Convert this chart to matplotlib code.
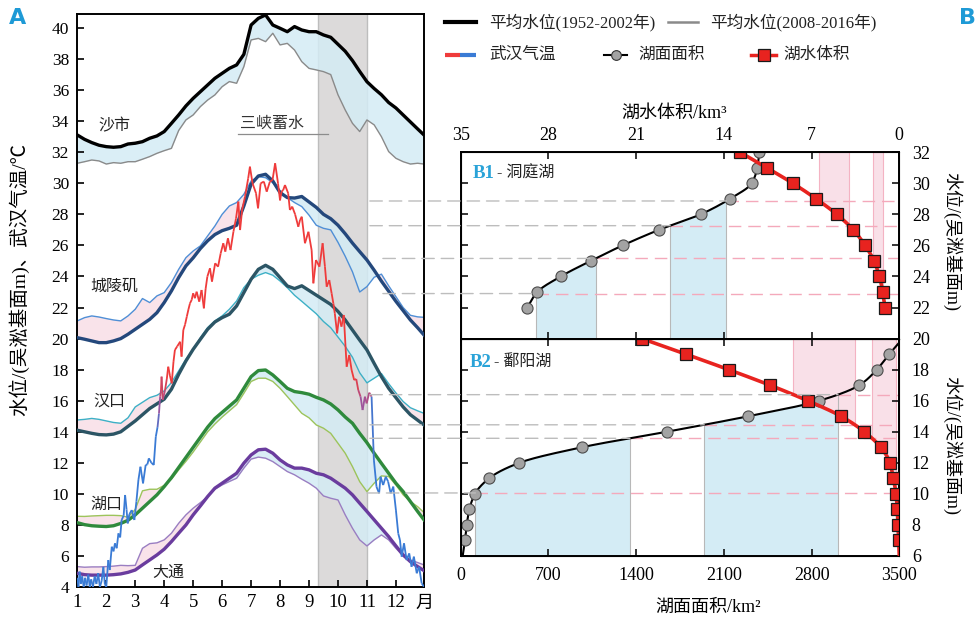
"""Water level seasonality (A) and lake stage-area-volume curves (B)."""
import matplotlib
matplotlib.use('Agg')
import matplotlib.pyplot as plt
import numpy as np
from matplotlib.collections import LineCollection
from matplotlib.colors import LinearSegmentedColormap, Normalize
from matplotlib.patches import ConnectionPatch

plt.rcParams['font.family'] = ['Liberation Serif', 'Noto Sans CJK SC', 'DejaVu Sans']
plt.rcParams['axes.unicode_minus'] = False

# ---------------- Panel A data ----------------
month = [1.0, 1.25, 1.5, 1.75, 2.0, 2.25, 2.5, 2.75, 3.0, 3.25, 3.5, 3.75,
         4.0, 4.25, 4.5, 4.75, 5.0, 5.25, 5.5, 5.75, 6.0, 6.25, 6.5, 6.75,
         7.0, 7.25, 7.5, 7.75, 8.0, 8.25, 8.5, 8.75, 9.0, 9.25, 9.5, 9.75,
         10.0, 10.25, 10.5, 10.75, 11.0, 11.25, 11.5, 11.75, 12.0, 12.25,
         12.5, 12.75, 12.97]

shashi_old = [33.11, 32.83, 32.62, 32.45, 32.36, 32.32, 32.36, 32.53, 32.58, 32.68,
              32.90, 33.05, 33.33, 33.86, 34.40, 34.98, 35.47, 35.90, 36.33, 36.76,
              37.08, 37.40, 37.62, 38.30, 40.19, 40.62, 40.84, 40.19, 39.98, 39.76,
              40.09, 39.87, 39.76, 39.76, 39.55, 39.40, 38.95, 38.50, 37.90, 37.20,
              36.54, 36.10, 35.70, 35.20, 34.85, 34.40, 33.95, 33.50, 33.11]
shashi_new = [31.29, 31.39, 31.50, 31.44, 31.24, 31.33, 31.29, 31.39, 31.39, 31.55,
              31.72, 31.93, 32.10, 32.25, 33.40, 34.08, 34.40, 34.94, 35.36, 35.69,
              36.22, 36.55, 36.44, 37.51, 39.23, 39.33, 39.12, 39.66, 38.91, 39.01,
              38.58, 37.83, 37.40, 37.30, 37.19, 37.00, 35.70, 34.72, 33.86, 33.33,
              34.08, 33.76, 33.00, 32.04, 31.61, 31.39, 31.24, 31.29, 31.24]

chengling_old = [20.06, 19.96, 19.85, 19.74, 19.74, 19.85, 20.00, 20.28, 20.60, 20.92,
                 21.24, 21.67, 22.32, 23.07, 23.93, 24.68, 25.20, 25.80, 26.30, 26.70,
                 26.95, 27.10, 27.30, 28.54, 29.94, 30.47, 30.58, 30.15, 29.40, 29.08,
                 29.05, 29.15, 28.80, 28.45, 28.00, 27.72, 27.30, 26.75, 26.15, 25.60,
                 25.06, 24.40, 23.70, 23.05, 22.40, 21.80, 21.20, 20.70, 20.23]
chengling_new = [21.14, 21.35, 21.46, 21.39, 21.29, 21.20, 21.14, 21.46, 21.89, 22.58,
                 22.32, 22.75, 22.96, 23.61, 24.46, 25.21, 25.64, 25.97, 26.61, 27.25,
                 28.00, 28.54, 28.76, 29.29, 30.15, 30.43, 30.36, 30.04, 29.50, 29.08,
                 28.76, 28.50, 27.95, 27.30, 27.10, 27.00, 26.20, 25.30, 24.30, 23.00,
                 23.35, 23.95, 24.15, 23.40, 22.70, 22.00, 21.50, 21.40, 21.37]

hankou_old = [14.10, 14.00, 13.90, 13.82, 13.80, 13.85, 14.00, 14.35, 14.70, 15.10,
              15.50, 15.80, 16.10, 16.74, 17.70, 18.56, 19.31, 19.96, 20.60, 21.07,
              21.35, 21.57, 22.10, 22.96, 23.82, 24.46, 24.72, 24.46, 23.93, 23.39,
              23.22, 23.40, 23.10, 22.80, 22.50, 22.20, 21.75, 21.20, 20.55, 19.90,
              19.27, 18.40, 17.55, 16.80, 16.20, 15.60, 15.10, 14.75, 14.44]
hankou_new = [14.76, 14.80, 14.86, 14.80, 14.70, 14.60, 14.55, 14.90, 15.60, 15.90,
              16.20, 16.35, 16.63, 17.17, 17.92, 18.67, 19.31, 20.06, 20.71, 21.14,
              21.46, 21.89, 22.42, 23.28, 23.82, 24.08, 24.25, 24.08, 23.71, 23.28,
              22.79, 22.40, 22.00, 21.60, 21.10, 20.70, 20.10, 19.50, 18.80, 17.80,
              17.15, 17.45, 17.75, 17.10, 16.50, 15.95, 15.55, 15.35, 15.19]

hukou_old = [8.15, 8.02, 7.95, 7.92, 7.90, 7.95, 8.10, 8.30, 8.65, 9.08,
             9.51, 9.94, 10.47, 11.05, 11.70, 12.35, 13.00, 13.65, 14.30, 14.85,
             15.25, 15.65, 16.05, 16.80, 17.55, 17.94, 17.98, 17.66, 17.24, 16.80,
             16.59, 16.52, 16.42, 16.22, 16.05, 15.79, 15.41, 14.95, 14.55, 13.90,
             13.30, 12.62, 11.97, 11.33, 10.69, 10.15, 9.51, 8.87, 8.33]
hukou_new = [8.56, 8.55, 8.58, 8.60, 8.62, 8.62, 8.60, 8.50, 9.00, 10.20,
             10.30, 10.30, 10.55, 10.95, 11.55, 12.10, 12.70, 13.35, 14.00, 14.50,
             14.95, 15.35, 15.75, 16.48, 17.24, 17.45, 17.45, 17.24, 16.80, 16.27,
             15.73, 15.19, 14.90, 14.44, 14.23, 13.90, 13.26, 12.62, 11.76, 10.79,
             10.15, 10.69, 11.16, 11.12, 10.58, 9.94, 9.51, 9.18, 8.80]

datong_old = [4.89, 4.80, 4.77, 4.77, 4.77, 4.80, 4.85, 4.95, 5.10, 5.43,
              5.75, 6.07, 6.44, 6.93, 7.47, 8.00, 8.65, 9.23, 9.83, 10.37,
              10.69, 11.01, 11.33, 11.98, 12.51, 12.84, 12.88, 12.62, 12.19, 11.87,
              11.66, 11.66, 11.55, 11.33, 11.23, 11.01, 10.69, 10.37, 9.94, 9.40,
              8.87, 8.33, 7.79, 7.25, 6.65, 6.07, 5.64, 5.32, 5.06]
datong_new = [5.32, 5.28, 5.30, 5.30, 5.32, 5.35, 5.40, 5.38, 5.40, 6.50,
              6.80, 6.85, 7.04, 7.47, 8.11, 8.65, 9.08, 9.44, 9.83, 10.30,
              10.58, 10.80, 11.01, 11.66, 12.24, 12.37, 12.30, 12.08, 11.76, 11.44,
              11.23, 10.95, 10.69, 10.37, 9.87, 9.72, 9.61, 8.65, 7.79, 7.04,
              6.65, 7.04, 7.36, 7.04, 6.50, 6.00, 5.75, 5.58, 5.43]

# Wuhan air temperature
temp_month = [1.00, 1.04, 1.08, 1.12, 1.17, 1.22, 1.27, 1.32, 1.38, 1.43, 1.48, 1.54,
              1.60, 1.66, 1.72, 1.78, 1.84, 1.90, 1.95, 2.00, 2.07, 2.12, 2.19, 2.25,
              2.30, 2.36, 2.42, 2.48, 2.53, 2.60, 2.65, 2.70, 2.74, 2.80, 2.88, 2.97,
              3.04, 3.11, 3.18, 3.27, 3.36, 3.42, 3.47, 3.56, 3.64, 3.71, 3.77, 3.82,
              3.86, 3.89, 3.91, 3.95, 4.03, 4.09, 4.14, 4.20, 4.26, 4.32, 4.37, 4.45,
              4.55, 4.60, 4.66, 4.72, 4.78, 4.84, 4.89, 4.95, 5.00, 5.06, 5.12, 5.21,
              5.29, 5.37, 5.43, 5.49, 5.58, 5.65, 5.76, 5.86, 5.95, 6.04, 6.11, 6.20,
              6.29, 6.39, 6.48, 6.56, 6.62, 6.69, 6.79, 6.90, 6.96, 7.05, 7.17, 7.24,
              7.33, 7.44, 7.54, 7.65, 7.74, 7.83, 7.93, 8.00, 8.05, 8.11, 8.17, 8.28,
              8.34, 8.42, 8.52, 8.63, 8.69, 8.75, 8.86, 8.98, 9.09, 9.15, 9.24, 9.36,
              9.47, 9.55, 9.61, 9.70, 9.78, 9.84, 9.89, 9.97, 10.04, 10.12, 10.20, 10.30,
              10.39, 10.47, 10.56, 10.63, 10.70, 10.78, 10.85, 10.93, 10.99, 11.08, 11.16, 11.24,
              11.33, 11.42, 11.47, 11.56, 11.65, 11.73, 11.82, 11.91, 12.00, 12.08, 12.14, 12.20,
              12.28, 12.37, 12.46, 12.54, 12.62, 12.72, 12.80, 12.89, 12.97]
temp_val = [4.6, 4.0, 5.0, 4.2, 4.7, 4.0, 4.6, 4.1, 4.8, 4.0, 4.5, 4.0,
            4.7, 4.2, 4.9, 4.0, 4.4, 5.3, 4.2, 4.0, 5.74, 5.1, 6.6, 6.3,
            6.82, 6.5, 7.46, 7.2, 8.32, 8.6, 9.93, 9.0, 8.1, 8.7, 8.96, 8.32,
            9.5, 10.9, 11.75, 10.68, 11.86, 11.9, 12.29, 12.0, 11.86, 13.68, 14.3, 15.18,
            16.26, 16.69, 17.55, 16.05, 16.69, 17.4, 18.19, 17.6, 17.12, 18.5, 19.27, 19.5,
            19.8, 18.84, 20.55, 20.9, 21.41, 21.9, 22.27, 22.5, 22.92, 22.6, 23.02, 22.38,
            23.13, 21.95, 23.2, 23.99, 24.53, 23.67, 24.85, 24.63, 25.49, 26.14, 25.6, 26.46,
            25.7, 26.88, 27.74, 28.82, 26.99, 28.28, 29.14, 30.32, 31.07, 30.0, 29.36, 28.39,
            30.0, 30.11, 29.46, 30.11, 30.21, 31.29, 30.0, 28.9, 29.46, 29.57, 29.89, 29.36,
            28.28, 28.5, 28.0, 27.2, 27.64, 27.85, 26.14, 26.88, 25.7, 23.56, 25.06, 24.63,
            26.14, 24.63, 23.34, 23.77, 22.92, 22.27, 21.63, 20.34, 21.41, 20.77, 21.52, 18.19,
            18.94, 17.98, 17.33, 17.4, 16.69, 16.26, 15.4, 16.26, 15.83, 16.52, 16.26, 12.18,
            10.46, 10.04, 11.11, 10.57, 11.11, 10.8, 10.04, 10.47, 8.96, 7.46, 7.03, 5.96,
            6.82, 5.74, 6.17, 5.31, 5.96, 4.89, 5.31, 4.24, 4.03]

impound = (9.32, 11.0)  # Three Gorges impoundment period (month)

# ---------------- Panel B data ----------------
b1_level = [22, 23, 24, 25, 26, 27, 28, 29, 30, 31, 32]
b1_area = [531, 611, 798, 1037, 1293, 1582, 1915, 2149, 2322, 2367, 2383]
b1_vol = [1.14, 1.32, 1.59, 2.02, 2.73, 3.67, 4.99, 6.64, 8.50, 10.58, 12.71]

b2_level = [7, 8, 9, 10, 11, 12, 13, 14, 15, 16, 17, 18, 19]
b2_area = [34, 48, 69, 114, 226, 468, 966, 1644, 2295, 2862, 3181, 3320, 3420]
b2_vol_level = [7, 8, 9, 10, 11, 12, 13, 14, 15, 16, 17, 18, 19, 20]
b2_vol = [0.05, 0.10, 0.16, 0.26, 0.48, 0.74, 1.48, 2.79, 4.65, 7.31, 10.32, 13.61, 17.04, 20.55]
# curve ends beyond the measured points
b2_area_end_level = [6.0, 19.75]
b2_area_end = [16, 3500]
b2_vol_end_level = [6.0]
b2_vol_end = [0.0]

# water levels carried over from panel A (dashed lines)
b1_dash = [28.86, 27.27, 25.16, 22.90]
b1_dash_from = [11.1, 11.1, 11.55, 11.55]
b2_dash = [16.39, 14.45, 13.58, 10.06]
b2_dash_from = [11.1, 11.1, 11.1, 11.0]


def pchip(xk, yk, xq):
    xk = np.asarray(xk, float)
    yk = np.asarray(yk, float)
    xq = np.asarray(xq, float)
    h = np.diff(xk)
    d = np.diff(yk) / h
    n = len(xk)
    m = np.zeros(n)
    for k in range(1, n - 1):
        if d[k - 1] * d[k] > 0:
            w1 = 2 * h[k] + h[k - 1]
            w2 = h[k] + 2 * h[k - 1]
            m[k] = (w1 + w2) / (w1 / d[k - 1] + w2 / d[k])
    m[0] = d[0]
    m[-1] = d[-1]
    i = np.clip(np.searchsorted(xk, xq) - 1, 0, n - 2)
    t = (xq - xk[i]) / h[i]
    h00 = 2 * t**3 - 3 * t**2 + 1
    h10 = t**3 - 2 * t**2 + t
    h01 = -2 * t**3 + 3 * t**2
    h11 = t**3 - t**2
    return h00 * yk[i] + h10 * h[i] * m[i] + h01 * yk[i + 1] + h11 * h[i] * m[i + 1]


BLUE_FILL = '#d4ecf5'
PINK_FILL = '#f9e0e8'

W, H = 978, 620
fig = plt.figure(figsize=(9.78, 6.2), dpi=100)


def box(l, t, r, b):
    return [l / W, 1 - b / H, (r - l) / W, (b - t) / H]


# ================= Panel A =================
axA = fig.add_axes(box(77.3, 14.0, 424.0, 587.1))
axA.axvspan(*impound, color='#dcdada', lw=0, zorder=0)
for xv in impound:
    axA.axvline(xv, color='#bdbdbd', lw=1.0, zorder=0.2)

x = np.array(month)
stations = [
    (shashi_old, shashi_new, 'black', '#8a8a8a', 2.4),
    (chengling_old, chengling_new, '#24487c', '#4f8fd6', 2.4),
    (hankou_old, hankou_new, '#2c5565', '#3db0c6', 2.4),
    (hukou_old, hukou_new, '#2f8a3c', '#9dc45b', 2.4),
    (datong_old, datong_new, '#6a3c9e', '#9a7ec2', 2.4),
]
for old, new, c_old, c_new, lw in stations:
    old = np.array(old)
    new = np.array(new)
    axA.fill_between(x, old, new, where=old >= new, interpolate=True,
                     color=BLUE_FILL, alpha=0.85, lw=0, zorder=1)
    axA.fill_between(x, old, new, where=new > old, interpolate=True,
                     color=PINK_FILL, alpha=0.9, lw=0, zorder=1)
    axA.plot(x, new, color=c_new, lw=1.0, zorder=2)
    axA.plot(x, old, color=c_old, lw=lw, zorder=3)

# temperature coloured by value (blue -> purple -> red)
tx = np.array(temp_month)
ty = np.array(temp_val)
pts = np.column_stack([tx, ty]).reshape(-1, 1, 2)
segs = np.concatenate([pts[:-1], pts[1:]], axis=1)
tcmap = LinearSegmentedColormap.from_list('tc', ['#3a7bd5', '#9b55a0', '#ef3b3b'])
tnorm = Normalize(14.0, 17.5)
lc = LineCollection(segs, colors=tcmap(tnorm((ty[:-1] + ty[1:]) / 2)),
                    linewidths=1.3, zorder=4)
axA.add_collection(lc)

axA.set_xlim(1, 12.97)
axA.set_ylim(4, 40.9)
axA.set_xticks(range(1, 13))
axA.set_yticks(range(4, 41, 2))
axA.tick_params(direction='in', length=5, width=1.2, labelsize=12.5)
axA.tick_params(axis='x', pad=5, labelsize=13.5)
axA.tick_params(axis='y', pad=6)
for s in axA.spines.values():
    s.set_linewidth(1.4)
axA.annotate('月', xy=(12.97, 0), xycoords=('data', 'axes fraction'),
             xytext=(0, -5.5), textcoords='offset points',
             ha='center', va='top', fontsize=13)
axA.set_ylabel('水位/(吴淞基面m)、武汉气温/℃', fontsize=14)
axA.yaxis.set_label_coords(-0.139, 0.536)

lab_kw = dict(fontsize=11.5, color='#222222', va='center', zorder=6)
axA.text(1.72, 33.64, '沙市', **lab_kw)
axA.text(1.45, 23.32, '城陵矶', **lab_kw)
axA.text(1.55, 15.94, '汉口', **lab_kw)
axA.text(1.45, 9.32, '湖口', **lab_kw)
axA.text(3.58, 4.94, '大通', **lab_kw)
axA.text(7.71, 33.85, '三峡蓄水', fontsize=11.5, color='#333333', ha='center', va='center')
axA.plot([6.56, 9.66], [33.15, 33.15], color='#8c8c8c', lw=0.9)

# ================= Panel B =================
axB1 = fig.add_axes(box(460.7, 152.2, 899.3, 338.6))
axB2 = fig.add_axes(box(460.7, 338.6, 899.3, 556.0))
axB1v = axB1.twiny()
axB2v = axB2.twiny()
for a in (axB1v, axB2v):
    a.set_xlim(35, 0)

panels = [
    (axB1, axB1v, b1_level, b1_area, b1_level, b1_vol, [], [], [], [],
     b1_dash, b1_dash_from, (20, 32)),
    (axB2, axB2v, b2_level, b2_area, b2_vol_level, b2_vol,
     b2_area_end_level, b2_area_end, b2_vol_end_level, b2_vol_end,
     b2_dash, b2_dash_from, (6, 20)),
]

for (ax, axv, lev, area, vlev, vol, ae_l, ae, ve_l, ve,
     dash, dash_from, (ylo, yhi)) in panels:
    # full curves including end pieces
    ca_l = sorted(list(lev) + list(ae_l))
    ca = [dict(zip(list(lev) + list(ae_l), list(area) + list(ae)))[k] for k in ca_l]
    cv_l = sorted(list(vlev) + list(ve_l))
    cv = [dict(zip(list(vlev) + list(ve_l), list(vol) + list(ve)))[k] for k in cv_l]

    # shaded spans between pairs of carried-over levels
    pairs = [(dash[3], dash[2]), (dash[1], dash[0])]
    for lo, hi in pairs:
        ls = np.linspace(lo, hi, 80)
        aa = pchip(ca_l, ca, ls)
        ax.fill_between(aa, ylo, ls, color=BLUE_FILL, lw=0, zorder=0.5)
        for e, lv in ((aa[0], lo), (aa[-1], hi)):
            ax.plot([e, e], [ylo, lv], color='#b8b8b8', lw=0.8, zorder=0.6)
        vv = pchip(cv_l, cv, ls)
        ax.fill_between(vv, ls, yhi, color=PINK_FILL, lw=0, zorder=0.5,
                        transform=axv.transData)
        for e, lv in ((vv[0], lo), (vv[-1], hi)):
            ax.plot([e, e], [lv, yhi], color='#f4b3c3', lw=0.8, zorder=0.6,
                    transform=axv.transData)

    # dashed lines: grey from panel A to area curve, pink beyond
    for L, x0 in zip(dash, dash_from):
        aL = float(pchip(ca_l, ca, [L])[0])
        con = ConnectionPatch(xyA=(x0, L), coordsA=axA.transData,
                              xyB=(aL, L), coordsB=ax.transData,
                              color='#bdbdbd', lw=1.0, linestyle=(0, (9, 5)))
        fig.add_artist(con)
        ax.plot([aL, 3500], [L, L], color='#f4a9bb', lw=1.0,
                linestyle=(0, (9, 5)), zorder=0.8)

    ls_all = np.linspace(ca_l[0], ca_l[-1], 300)
    ax.plot(pchip(ca_l, ca, ls_all), ls_all, color='black', lw=1.5, zorder=3)
    ax.plot(area, lev, 'o', ms=8, mfc='#a3a3a3', mec='#4d4d4d', mew=0.8, zorder=4)
    lv_all = np.linspace(cv_l[0], cv_l[-1], 300)
    ax.plot(pchip(cv_l, cv, lv_all), lv_all, color='#e8231f', lw=2.6, zorder=5,
            transform=axv.transData)
    ax.plot(vol, vlev, 's', ms=8.5, mfc='#e8231f', mec='#1a1a1a', mew=0.9,
            zorder=6, transform=axv.transData)

    ax.set_xlim(0, 3500)
    ax.set_ylim(ylo, yhi)
    ax.set_yticks(range(ylo if ylo % 2 == 0 else ylo + 1, yhi + 1, 2))
    ax.set_xticks([0, 700, 1400, 2100, 2800, 3500])
    ax.yaxis.set_label_position('right')
    ax.tick_params(direction='in', length=5, width=1.1, top=True, bottom=True,
                   left=True, right=True, labelleft=False, labelright=True,
                   labelsize=13)
    ax.tick_params(axis='y', pad=9)
    ax.tick_params(axis='x', pad=8)
    for s in ax.spines.values():
        s.set_linewidth(1.4)
    ax.set_ylabel('水位/(吴淞基面m)', fontsize=13, rotation=270, va='center', ha='center')
    axv.set_xlim(35, 0)

axB1.set_yticks([22, 24, 26, 28, 30, 32])
axB1.tick_params(axis='x', labelbottom=False)
axB1.yaxis.set_label_coords(1.12, 0.52)
axB2.yaxis.set_label_coords(1.12, 0.51)
axB2.set_xlabel('湖面面积/km²', fontsize=13)
axB2.xaxis.set_label_coords(0.564, -0.195)

axB1v.set_xticks([35, 28, 21, 14, 7, 0])
axB1v.tick_params(axis='x', length=0, pad=6, labelsize=13)
axB1v.set_xlabel('湖水体积/km³', fontsize=13)
axB1v.xaxis.set_label_coords(0.487, 1.185)
axB2v.tick_params(axis='x', top=False, labeltop=False)

axB1.text(0.028, 0.885, 'B1', transform=axB1.transAxes, fontsize=13.5,
          fontweight='bold', color='#2aa3d8', va='center')
axB1.text(0.083, 0.885, '- 洞庭湖', transform=axB1.transAxes, fontsize=11.5,
          color='#222222', va='center')
axB2.text(0.021, 0.892, 'B2', transform=axB2.transAxes, fontsize=13.5,
          fontweight='bold', color='#2aa3d8', va='center')
axB2.text(0.076, 0.892, '- 鄱阳湖', transform=axB2.transAxes, fontsize=11.5,
          color='#222222', va='center')

# ================= Legend (top right) =================
lg = fig.add_axes([0, 0, 1, 1], zorder=-1)
lg.set_xlim(0, W)
lg.set_ylim(H, 0)
lg.axis('off')
txt = dict(fontsize=12, va='center', color='#222222')
lg.plot([445, 476], [22, 22], color='black', lw=3)
lg.text(489, 22, '平均水位(1952-2002年)', **txt)
lg.plot([668, 698], [22, 22], color='#8a8a8a', lw=1.8)
lg.text(710, 22, '平均水位(2008-2016年)', **txt)
lg.plot([445, 460], [55, 55], color='#ef3b3b', lw=3, solid_capstyle='butt')
lg.plot([460, 476], [55, 55], color='#3a7bd5', lw=3, solid_capstyle='butt')
lg.text(489, 55, '武汉气温', **txt)
lg.plot([604, 627], [55, 55], color='black', lw=1.5)
lg.plot([615.5], [55], 'o', ms=7, mfc='#a3a3a3', mec='#333333', mew=0.8)
lg.text(638, 55, '湖面面积', **txt)
lg.plot([751, 776], [55, 55], color='#e8231f', lw=2.5)
lg.plot([763.5], [55], 's', ms=8, mfc='#e8231f', mec='#1a1a1a', mew=0.9)
lg.text(783, 55, '湖水体积', **txt)

fig.text(17.5 / W, 1 - 18 / H, 'A', fontsize=16, fontweight='bold', color='#1e9ad6',
         family='DejaVu Sans', ha='center', va='center')
fig.text(976 / W, 1 - 18 / H, 'B', fontsize=16, fontweight='bold', color='#1e9ad6',
         family='DejaVu Sans', ha='right', va='center')

fig.savefig('out.png', dpi=100)
print('saved')
